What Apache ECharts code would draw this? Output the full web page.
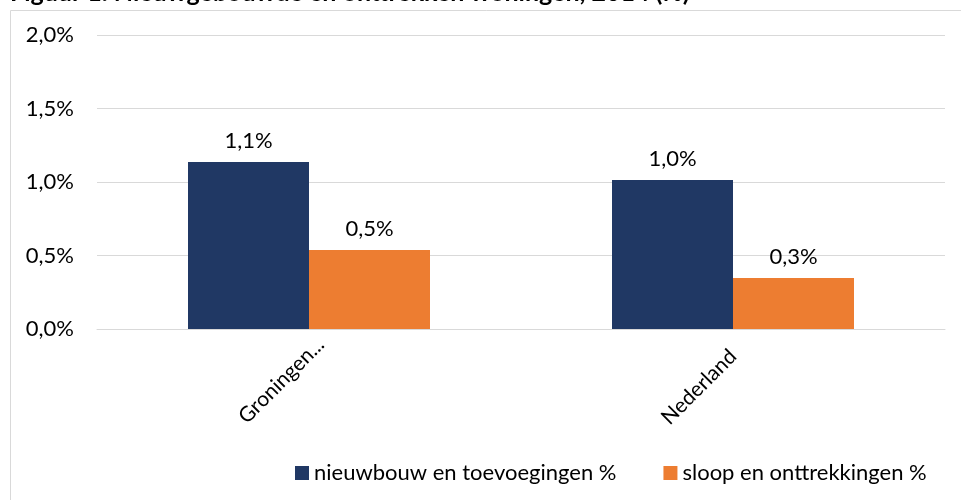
<!DOCTYPE html>
<html>
<head>
<meta charset="utf-8">
<script src="https://cdn.jsdelivr.net/npm/echarts@6/dist/echarts.min.js"></script>
<style>
  html, body { margin: 0; padding: 0; background: #fff; }
  #chart { width: 961px; height: 500px; }
</style>
</head>
<body>
<div id="chart"></div>
<script>
// Data uit de figuur (percentages)
const categories = ['Groningen...', 'Nederland'];
const nieuwbouw = [1.136, 1.014];
const sloop = [0.537, 0.347];
const seriesNames = ['nieuwbouw en toevoegingen %', 'sloop en onttrekkingen %'];
const yTicks = [0, 0.5, 1.0, 1.5, 2.0];

const FONT = 'Lato';
const pct = (v) => v.toFixed(1).replace('.', ',') + '%';

const chart = echarts.init(document.getElementById('chart'));

const labelStyle = {
  show: true,
  position: 'top',
  distance: 10,
  color: '#000',
  fontFamily: FONT,
  fontSize: 22,
  formatter: (p) => pct(p.value)
};

// Excel zet het afgekorte label iets verder naar rechtsboven
const xData = categories.map((c, i) =>
  i === 0 ? { value: c, textStyle: { align: 'center' } } : c
);

const option = {
  animation: false,
  textStyle: { fontFamily: FONT },
  graphic: [
    {
      type: 'rect',
      shape: { x: 10.5, y: 10.5, width: 1000, height: 600 },
      style: { fill: 'none', stroke: '#d9d9d9', lineWidth: 1 }
    },
    {
      type: 'text',
      left: 10,
      top: -20,
      style: {
        text: 'Figuur 1. Nieuwgebouwde en onttrekken woningen, 2014 (%)',
        font: 'bold 25px Lato',
        fill: '#000'
      }
    }
  ],
  legend: {
    left: 290,
    top: 457,
    itemWidth: 14,
    itemHeight: 14,
    itemGap: 47,
    icon: 'rect',
    textStyle: { fontFamily: FONT, fontSize: 22, color: '#000' },
    data: seriesNames
  },
  grid: { left: 97, right: 16, top: 35, bottom: 171 },
  xAxis: {
    type: 'category',
    data: xData,
    axisLine: { lineStyle: { color: '#d9d9d9' } },
    axisTick: { show: false },
    axisLabel: {
      rotate: 45,
      margin: 24,
      color: '#000',
      fontFamily: FONT,
      fontSize: 21,
      formatter: (v, i) => (i === 0 ? '{g|' + v + '}' : v),
      rich: {
        g: { fontFamily: FONT, fontSize: 21, color: '#000', padding: [0, 78, 0, 0] }
      }
    }
  },
  yAxis: {
    type: 'value',
    min: yTicks[0],
    max: yTicks[yTicks.length - 1],
    interval: 0.5,
    axisLine: { show: false },
    axisTick: { show: false },
    splitLine: { lineStyle: { color: '#d9d9d9' } },
    axisLabel: {
      color: '#000',
      fontFamily: FONT,
      fontSize: 22,
      margin: 23,
      formatter: (v) => pct(v)
    }
  },
  series: [
    {
      name: seriesNames[0],
      type: 'bar',
      data: nieuwbouw,
      barWidth: 121,
      barGap: '0%',
      itemStyle: { color: '#203864' },
      label: labelStyle
    },
    {
      name: seriesNames[1],
      type: 'bar',
      data: sloop,
      barWidth: 121,
      itemStyle: { color: '#ed7d31' },
      label: labelStyle
    }
  ]
};

chart.setOption(option);
window.addEventListener('resize', () => chart.resize());
</script>
</body>
</html>
